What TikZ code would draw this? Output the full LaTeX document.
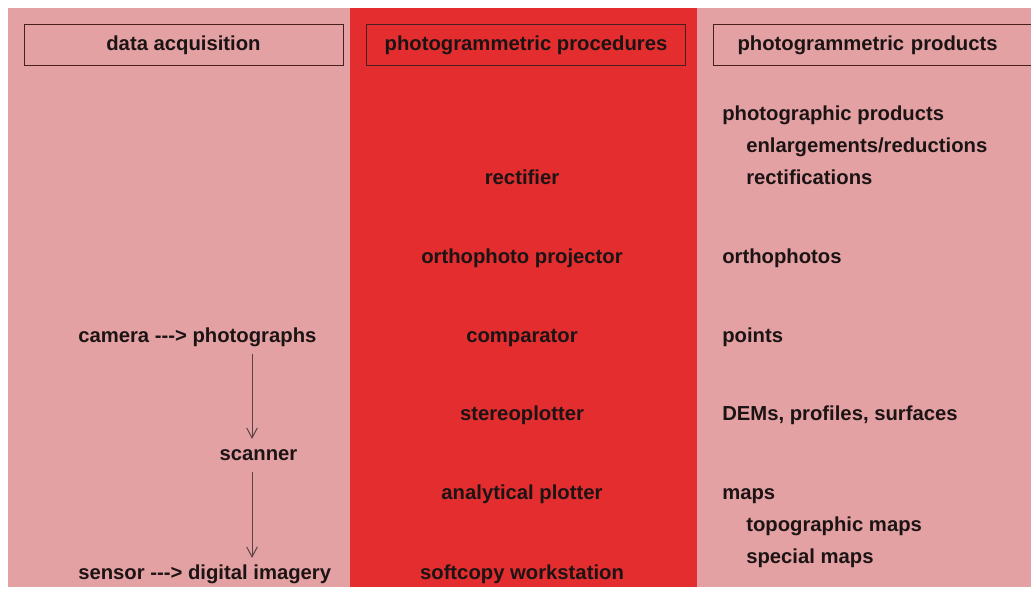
\documentclass[tikz,border=0pt]{standalone}
\usepackage{fontspec}
\setmainfont{Liberation Sans}[Ligatures=NoCommon]
\usetikzlibrary{arrows.meta}

\definecolor{sidepink}{HTML}{E4A1A3}
\definecolor{midred}{HTML}{E32D2E}
\definecolor{boxline}{HTML}{4A1E1E}
\definecolor{ink}{HTML}{1C1414}
\definecolor{arrowgray}{HTML}{5A4545}

\tikzset{
  lbl/.style={font=\fontsize{15.2}{18}\selectfont\bfseries, text=ink,
              inner sep=0pt, text height=0.72em, text depth=0.21em},
  hdr/.style={lbl, text height=1.11em, draw=boxline, line width=0.75pt,
              minimum width=239.25pt, minimum height=30.75pt},
  flow/.style={draw=arrowgray, line width=0.75pt,
               -{Straight Barb[length=7.5pt,width=8pt]},
               shorten <=6.5pt, shorten >=8.7pt}
}

\begin{document}
\begin{tikzpicture}[x=0.75pt,y=-0.75pt]
  % page and the three column bands
  \fill[white] (0,0) rectangle (1031,589);
  \useasboundingbox (0,0) rectangle (1031,589);
  \clip (0,0) rectangle (1031,589);
  \fill[sidepink] (8,8) rectangle (350,587);
  \fill[midred] (350,8) rectangle (697,587);
  \fill[sidepink] (697,8) rectangle (1031,587);

  % column headings
  \node[hdr] (hA) at (183.5,44.5) {data acquisition};
  \node[hdr] (hB) at (526,44.5) {photogrammetric procedures};
  \node[hdr, anchor=west, minimum width=0pt, text width=213pt,
        align=left, inner xsep=18pt] (hC) at (713,44.5)
        {photogrammetric products};

  % data acquisition
  \node[lbl, anchor=west] (camera) at (78,339) {camera -{}-{}-> photographs};
  \node[lbl] (scanner) at (258.5,457) {scanner};
  \node[lbl, anchor=west] (sensor) at (78,576) {sensor -{}-{}-> digital imagery};
  \coordinate (flowx) at (252,0);
  \draw[flow] (camera.south -| flowx) -- (scanner.north -| flowx);
  \draw[flow] (scanner.south -| flowx) -- (sensor.north -| flowx);

  % photogrammetric procedures
  \node[lbl] (rect)  at (522,181) {rectifier};
  \node[lbl] (ortho) at (522,260) {orthophoto projector};
  \node[lbl] (comp)  at (522,339) {comparator};
  \node[lbl] (stereo) at (522,417) {stereoplotter};
  \node[lbl] (anal)  at (522,496) {analytical plotter};
  \node[lbl] (soft)  at (522,576) {softcopy workstation};

  % photogrammetric products
  \node[lbl, anchor=west] (pp)   at (722,117) {photographic products};
  \node[lbl, anchor=west] (enl)  at (746,149) {enlargements/reductions};
  \node[lbl, anchor=west] (rfs)  at (746,181) {rectifications};
  \node[lbl, anchor=west] (oph)  at (722,260) {orthophotos};
  \node[lbl, anchor=west] (pts)  at (722,339) {points};
  \node[lbl, anchor=west] (dem)  at (722,417) {DEMs, profiles, surfaces};
  \node[lbl, anchor=west] (maps) at (722,496) {maps};
  \node[lbl, anchor=west] (topo) at (746,528) {topographic maps};
  \node[lbl, anchor=west] (spec) at (746,560) {special maps};
\end{tikzpicture}
\end{document}
